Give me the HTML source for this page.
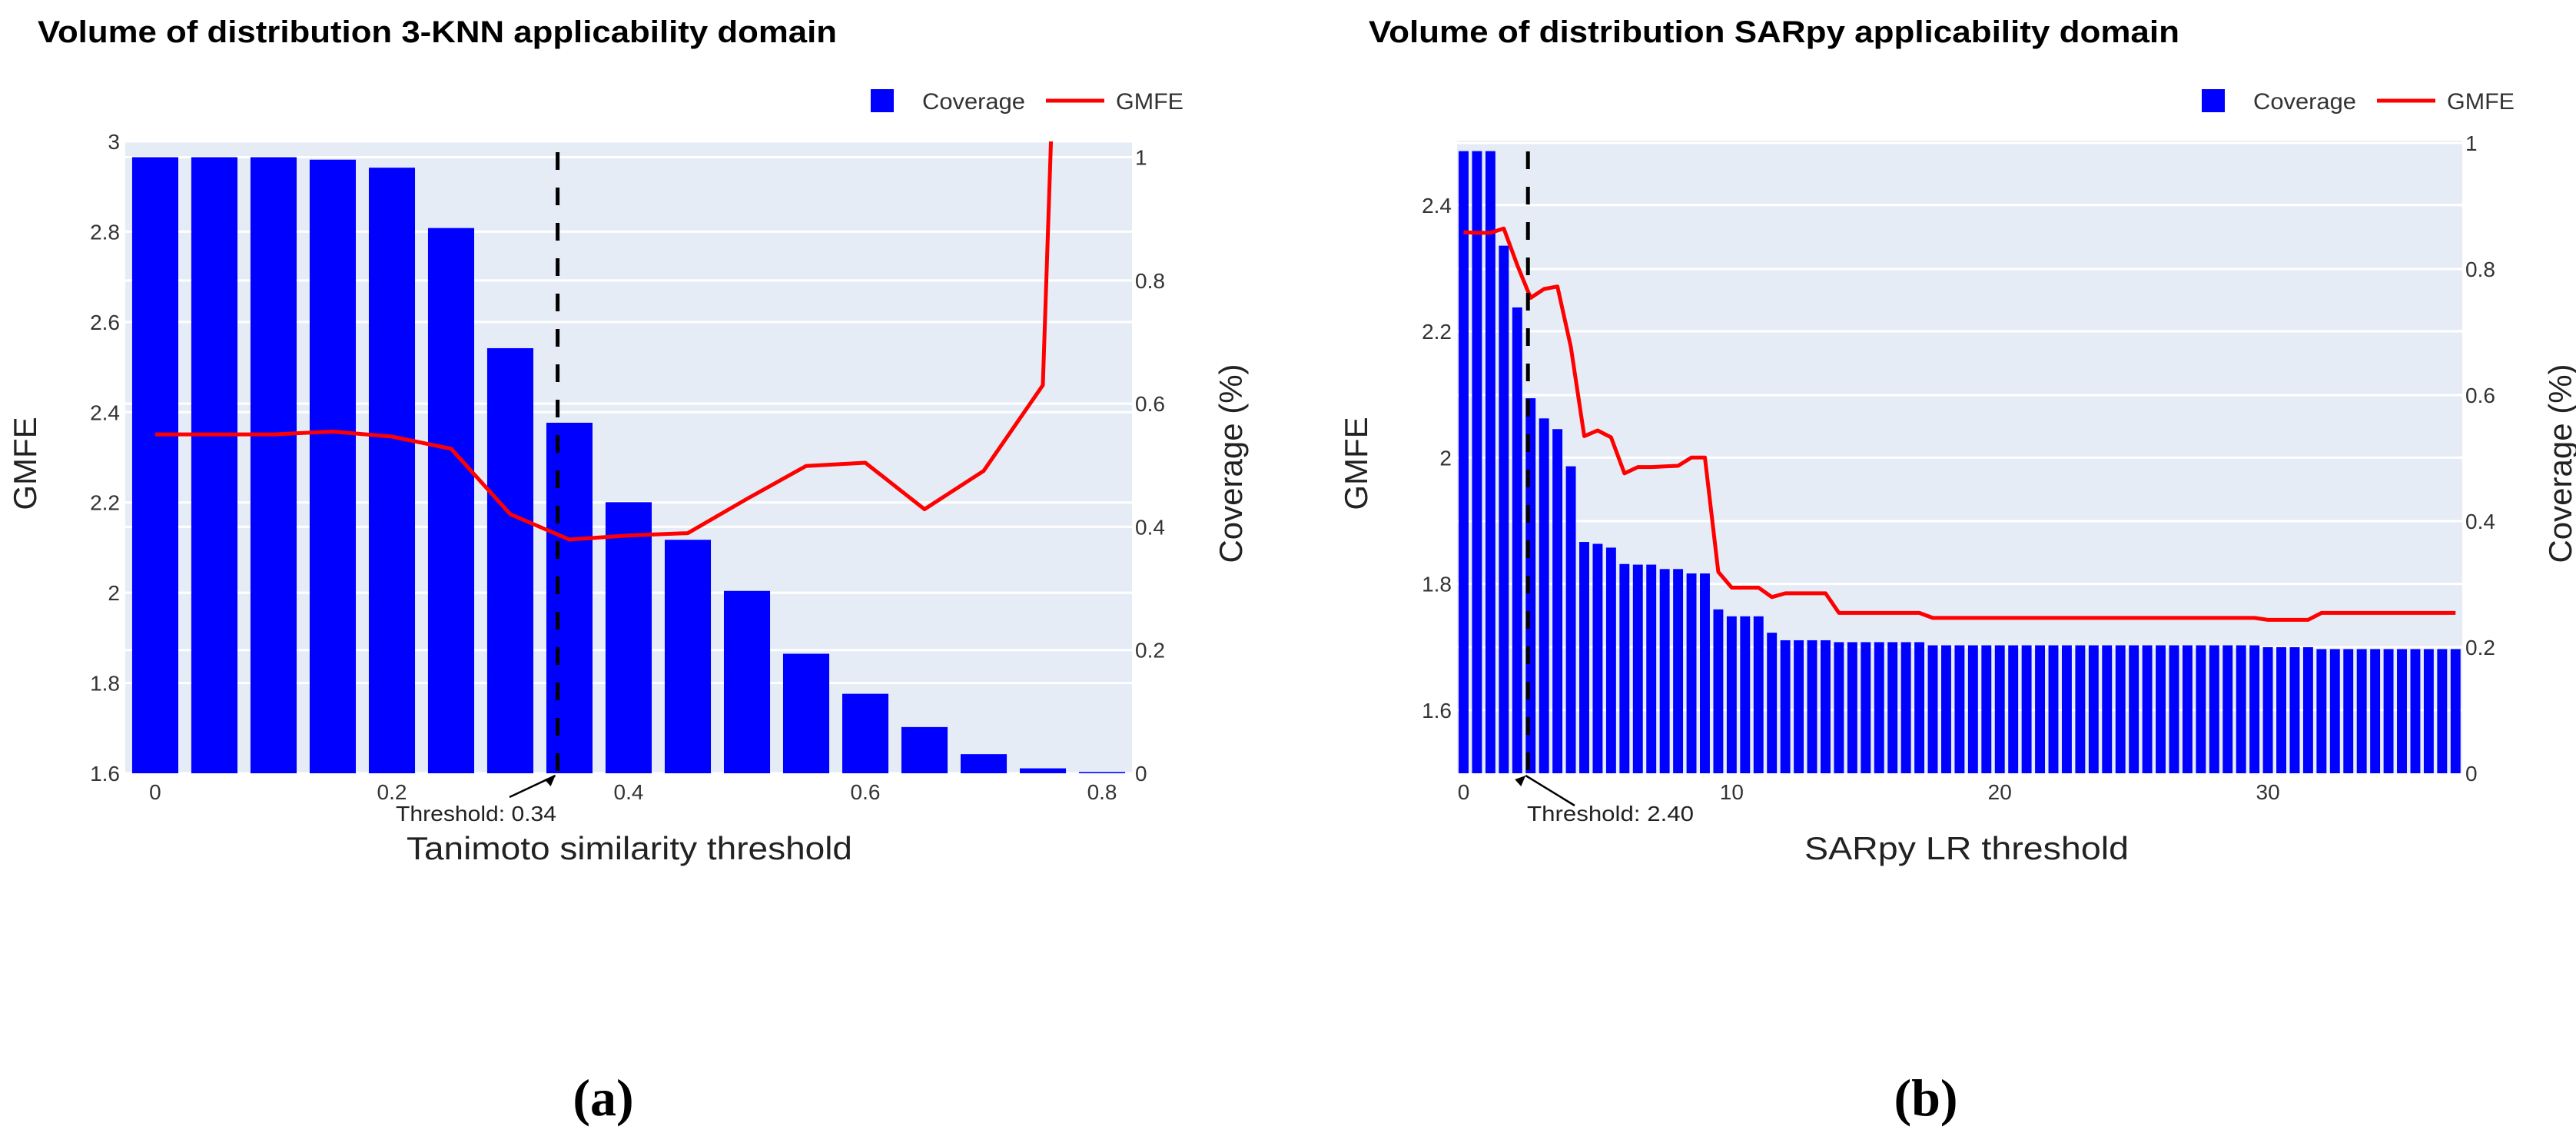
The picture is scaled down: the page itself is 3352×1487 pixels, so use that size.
<!DOCTYPE html>
<html><head><meta charset="utf-8">
<style>
html,body{margin:0;padding:0;background:#fff;}
svg{display:block;font-family:"Liberation Sans",sans-serif;}
</style></head>
<body>
<svg id="fig" width="3352" height="1487" viewBox="0 0 3352 1487" xmlns="http://www.w3.org/2000/svg">
  <text x="49" y="55" font-size="40" font-weight="bold" fill="#000" textLength="1040" lengthAdjust="spacingAndGlyphs">Volume of distribution 3-KNN applicability domain</text>
  <text x="1781" y="55" font-size="40" font-weight="bold" fill="#000" textLength="1055" lengthAdjust="spacingAndGlyphs">Volume of distribution SARpy applicability domain</text>
  <text x="785" y="1451" font-size="68" font-weight="bold" font-family="Liberation Serif, serif" text-anchor="middle" fill="#000">(a)</text>
  <text x="2506" y="1451" font-size="68" font-weight="bold" font-family="Liberation Serif, serif" text-anchor="middle" fill="#000">(b)</text>
  <g id="chartA"></g>
  <g id="chartB"></g>
</svg>
<script>
// ---- Chart A data ----
const aThresholds = [0,0.05,0.1,0.15,0.2,0.25,0.3,0.35,0.4,0.45,0.5,0.55,0.6,0.65,0.7,0.75,0.8];
const aCoverage = [1.0,1.0,1.0,0.996,0.983,0.885,0.69,0.569,0.44,0.379,0.296,0.194,0.129,0.075,0.031,0.008,0.002];
const aGmfe = [2.351,2.351,2.351,2.357,2.346,2.319,2.174,2.118,2.127,2.132,2.208,2.281,2.288,2.185,2.27,2.46,6.4];
const aXTicks = [0,0.2,0.4,0.6,0.8];
const aXTickLabels = ["0","0.2","0.4","0.6","0.8"];
const aGmfeTicks = [1.6,1.8,2,2.2,2.4,2.6,2.8,3];
const aGmfeTickLabels = ["1.6","1.8","2","2.2","2.4","2.6","2.8","3"];
const aCovTicks = [0,0.2,0.4,0.6,0.8,1];
const aCovTickLabels = ["0","0.2","0.4","0.6","0.8","1"];
const aThreshold = 0.34;

// ---- Chart B data ----
const bThresholds = [0,0.5,1,1.5,2,2.5,3,3.5,4,4.5,5,5.5,6,6.5,7,7.5,8,8.5,9,9.5,10,10.5,11,11.5,12,12.5,13,13.5,14,14.5,15,15.5,16,16.5,17,17.5,18,18.5,19,19.5,20,20.5,21,21.5,22,22.5,23,23.5,24,24.5,25,25.5,26,26.5,27,27.5,28,28.5,29,29.5,30,30.5,31,31.5,32,32.5,33,33.5,34,34.5,35,35.5,36,36.5,37];
const bCoverage = [0.987,0.987,0.987,0.837,0.739,0.595,0.563,0.546,0.487,0.367,0.364,0.358,0.332,0.331,0.331,0.324,0.324,0.317,0.317,0.26,0.249,0.249,0.249,0.223,0.211,0.211,0.211,0.211,0.208,0.208,0.208,0.208,0.208,0.208,0.208,0.203,0.203,0.203,0.203,0.203,0.203,0.203,0.203,0.203,0.203,0.203,0.203,0.203,0.203,0.203,0.203,0.203,0.203,0.203,0.203,0.203,0.203,0.203,0.203,0.203,0.2,0.2,0.2,0.2,0.197,0.197,0.197,0.197,0.197,0.197,0.197,0.197,0.197,0.197,0.197];
const bGmfe = [2.357,2.356,2.356,2.363,2.305,2.253,2.267,2.271,2.175,2.034,2.043,2.032,1.975,1.985,1.985,1.986,1.987,2.0,2.0,1.819,1.794,1.794,1.794,1.779,1.785,1.785,1.785,1.785,1.754,1.754,1.754,1.754,1.754,1.754,1.754,1.746,1.746,1.746,1.746,1.746,1.746,1.746,1.746,1.746,1.746,1.746,1.746,1.746,1.746,1.746,1.746,1.746,1.746,1.746,1.746,1.746,1.746,1.746,1.746,1.746,1.743,1.743,1.743,1.743,1.754,1.754,1.754,1.754,1.754,1.754,1.754,1.754,1.754,1.754,1.754];
const bXTicks = [0,10,20,30];
const bXTickLabels = ["0","10","20","30"];
const bGmfeTicks = [1.6,1.8,2,2.2,2.4];
const bGmfeTickLabels = ["1.6","1.8","2","2.2","2.4"];
const bCovTicks = [0,0.2,0.4,0.6,0.8,1];
const bCovTickLabels = ["0","0.2","0.4","0.6","0.8","1"];
const bThreshold = 2.40;

const NS = "http://www.w3.org/2000/svg";
function mk(parent, tag, attrs, txt){
  const e = document.createElementNS(NS, tag);
  for (const k in attrs) e.setAttribute(k, attrs[k]);
  if (txt !== undefined) e.textContent = txt;
  parent.appendChild(e);
  return e;
}

function drawChart(g, L, xs, cov, gm, xt, xtl, gt, gtl, ct, ctl, thr){
  const xScale = v => L.left + (v - L.xMin) / (L.xMax - L.xMin) * (L.right - L.left);
  const gScale = v => L.bottom - (v - L.gMin) / (L.gMax - L.gMin) * (L.bottom - L.top);
  const cScale = v => L.bottom - (v - L.cMin) / (L.cMax - L.cMin) * (L.bottom - L.top);

  const bg = mk(g, "rect", {x:L.left, y:L.top, width:L.right-L.left, height:L.bottom-L.top, fill:"#E5ECF6"});
  
  

  gt.forEach((t,i) => {
    const y = gScale(t);
    const ln = mk(g, "line", {x1:L.left, x2:L.right, y1:y, y2:y, stroke:"#fff", "stroke-width":3});
    
    
    const tx = mk(g, "text", {x:L.left-7, y:y+10, "font-size":28, "text-anchor":"end", fill:"#333"}, gtl[i]);
    
    
  });
  ct.forEach((t,i) => {
    const y = cScale(t);
    if (t > 0) {
      const ln = mk(g, "line", {x1:L.left, x2:L.right, y1:y, y2:y, stroke:"#fff", "stroke-width":3});
      
      
    }
    const tx = mk(g, "text", {x:L.right+4, y:y+10, "font-size":28, "text-anchor":"start", fill:"#333"}, ctl[i]);
    
    
  });

  const pitch = Math.abs(xScale(xs[1]) - xScale(xs[0]));
  const bw = pitch * L.barFrac;
  xs.forEach((x,i) => {
    const y = cScale(cov[i]);
    const r = mk(g, "rect", {x:xScale(x)-bw/2, y:y, width:bw, height:Math.max(L.bottom-y,1.5), fill:"#0000FF"});
    
    
  });

  const cid = "clip" + L.id;
  const defs = mk(g, "defs", {});
  const cp = mk(defs, "clipPath", {id:cid});
  mk(cp, "rect", {x:L.left, y:L.top, width:L.right-L.left, height:L.bottom-L.top});
  const pts = xs.map((x,i) => xScale(x).toFixed(1) + "," + gScale(gm[i]).toFixed(1)).join(" ");
  const pl = mk(g, "polyline", {points:pts, fill:"none", stroke:"#FF0000", "stroke-width":5, "stroke-linejoin":"round", "clip-path":"url(#"+cid+")"});
  
  

  const tx0 = xScale(thr);
  const th = mk(g, "line", {x1:tx0, x2:tx0, y1:L.top+14, y2:L.bottom, stroke:"#000", "stroke-width":5, "stroke-dasharray":"23,23"});
  
  

  xt.forEach((t,i) => {
    const tx = mk(g, "text", {x:xScale(t), y:1040, "font-size":28, "text-anchor":"middle", fill:"#333"}, xtl[i]);
    
    
  });

  const ar = mk(g, "line", {x1:L.arrow[0], y1:L.arrow[1], x2:tx0-3, y2:L.bottom+3, stroke:"#000", "stroke-width":2.5});
  
  
  const ah = mk(g, "polygon", {points:(tx0-3)+","+(L.bottom+3)+" "+(tx0-17)+","+(L.bottom+8)+" "+(tx0-9)+","+(L.bottom+17), fill:"#000"});
  
  
  const an = mk(g, "text", {x:L.annX, y:1068, "font-size":28, fill:"#222", textLength:L.annW, lengthAdjust:"spacingAndGlyphs"}, "Threshold: " + thr.toFixed(2));
  
  

  const xtitle = mk(g, "text", {x:L.xtX, y:1118, "font-size":42, fill:"#222", textLength:L.xtW, lengthAdjust:"spacingAndGlyphs"}, L.xTitle);
  
  
  const yl = mk(g, "text", {x:0, y:0, "font-size":42, fill:"#222", "text-anchor":"middle", transform:"translate("+L.ylX+",603) rotate(-90)"}, "GMFE");
  
  
  const yr = mk(g, "text", {x:0, y:0, "font-size":42, fill:"#222", "text-anchor":"middle", transform:"translate("+L.yrX+",603) rotate(-90)"}, "Coverage (%)");
  
  

  const ls = mk(g, "rect", {x:L.legX, y:116, width:30, height:30, fill:"#0000FF"});
  
  
  const lt = mk(g, "text", {x:L.legX+67, y:142, "font-size":30, fill:"#333", textLength:134, lengthAdjust:"spacingAndGlyphs"}, "Coverage");
  
  
  const ll = mk(g, "line", {x1:L.legX+228, x2:L.legX+304, y1:131, y2:131, stroke:"#FF0000", "stroke-width":5});
  
  
  const lg = mk(g, "text", {x:L.legX+319, y:142, "font-size":30, fill:"#333", textLength:88, lengthAdjust:"spacingAndGlyphs"}, "GMFE");
  
  
}

drawChart(document.getElementById("chartA"),
  {id:"A", left:163, right:1473, top:184, bottom:1006, xMin:-0.0253, xMax:0.8253,
   gMin:1.6, gMax:3.0, cMin:0, cMax:1.0256, barFrac:0.78,
   arrow:[663,1037], annX:515, annW:209, xtX:529, xtW:580, xTitle:"Tanimoto similarity threshold",
   ylX:47, yrX:1616, legX:1133},
  aThresholds, aCoverage, aGmfe, aXTicks, aXTickLabels, aGmfeTicks, aGmfeTickLabels, aCovTicks, aCovTickLabels, aThreshold);

drawChart(document.getElementById("chartB"),
  {id:"B", left:1896, right:3204, top:183, bottom:1006, xMin:-0.244, xMax:37.25,
   gMin:1.5, gMax:2.502, cMin:0, cMax:1.0036, barFrac:0.74,
   arrow:[2049,1048], annX:1987, annW:217, xtX:2348, xtW:422, xTitle:"SARpy LR threshold",
   ylX:1779, yrX:3346, legX:2865},
  bThresholds, bCoverage, bGmfe, bXTicks, bXTickLabels, bGmfeTicks, bGmfeTickLabels, bCovTicks, bCovTickLabels, bThreshold);
</script>
</body></html>
